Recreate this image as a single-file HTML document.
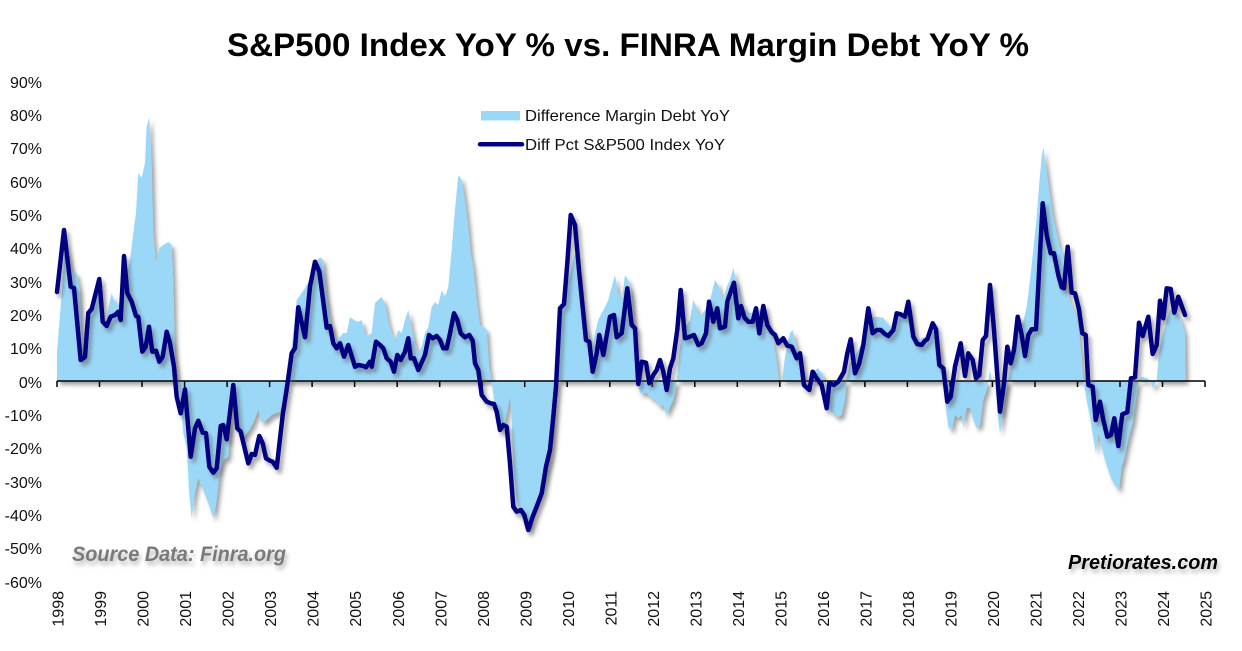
<!DOCTYPE html>
<html>
<head>
<meta charset="utf-8">
<style>
html,body{margin:0;padding:0;background:#fff;}
svg{display:block;}
text{font-family:"Liberation Sans",Arial,sans-serif;}
</style>
</head>
<body>
<svg width="1242" height="651" viewBox="0 0 1242 651" xmlns="http://www.w3.org/2000/svg">
<defs>
<filter id="sh" x="-5%" y="-5%" width="110%" height="110%">
<feDropShadow dx="3" dy="4" stdDeviation="2" flood-color="#555" flood-opacity="0.55"/>
</filter>
<filter id="tsh" x="-5%" y="-20%" width="110%" height="160%">
<feDropShadow dx="2" dy="4" stdDeviation="2" flood-color="#888" flood-opacity="0.6"/>
</filter>
</defs>
<rect width="1242" height="651" fill="#fff"/>

<text x="628" y="56" text-anchor="middle" font-size="32" font-weight="bold" textLength="802" lengthAdjust="spacingAndGlyphs" fill="#000">S&amp;P500 Index YoY % vs. FINRA Margin Debt YoY %</text>

<!-- area -->
<polygon filter="url(#sh)" fill="#9bd8f8" points="57,381 57,352 62,290 65,240 72,272 76.7,273 80,290 83,365 86,350 88.3,315 92,305 99,282 102,318 106,322 110,300 111.7,293 114,300 118,305 121,300 124,260 127,275 130,260 133.3,233 136,213 138.3,173 141.7,178 145,163 146.7,127 149.3,117 151.7,167 153.3,233 156,262 159.3,248 163,245 168.3,242 171.7,245 173.3,280 175,360 177.5,381 180,393 183.3,433 186.7,447 189,490 191.7,518 195,493 198.3,478 203.3,490 208.3,503 213.3,518 216,505 220,473 223.3,460 228.3,457 231.7,413 234,392 236,415 240,440 245,436 249.3,430 253.3,423 258.3,410 261.7,423 266.7,420 271.7,415 276.7,413 280,412 283.3,400 286.7,382 289,355 292,345 296.7,300 301.7,293 305,288 308.3,282 312,275 315,263 320,257 323.3,260 326.7,295 330,316 334,335 338,340 343,333 346.7,333 350,317 354,320 358,322 361.7,320 365,333 368,336 371.7,333 375,303 378,300 381.7,297 385,303 388,320 391.7,333 395,340 398.3,330 401.7,333 405,320 408.3,310 411.7,327 415,343 418.3,353 421.7,347 425,333 428.3,327 431.7,307 435,302 438.3,305 441.7,290 445,297 448.3,287 451.7,250 455,210 458.3,175 461.7,180 465,200 468.3,227 470.7,253 473.3,267 476.7,300 480,325 484,327 486.7,330 489.3,367 491.7,381 494,400 498,413 503.3,433 506.7,415 510,397 511.7,420 513.3,467 516.7,500 521.7,517 525,523 528.3,530 533,513 538.3,500 543,487 546.7,473 550,460 553.3,433 555,400 556.7,381 558.3,340 561.7,307 565,300 568.3,280 571.7,267 575,253 578.3,270 581.7,300 585,327 588.3,333 591.7,353 595,333 598.3,320 601.7,313 605,307 608.3,300 611.7,287 615,275 618.3,293 621.7,300 625,275 628.3,280 631.7,293 635,333 637.7,381 640,393 646.7,393 650,397 655,400 660,407 663.3,405 666.7,415 670,407 673.3,400 675,393 676.7,381 680,347 683.3,330 686.7,325 690,320 693.3,300 696.7,307 700,317 705,310 710,300 715,280 718.3,285 723.3,300 726.7,287 730,280 733.3,268 736.7,283 741.7,303 745,310 750,313 756.7,313 763.3,307 766.7,323 770,333 773.3,340 776.7,360 779,381 782,381 785,357 790,333 792.7,330 795,340 798.3,353 801.7,367 805,381 810,381 813,372 818,368 823,375 826,390 830,410 835,415 838.3,417 841.7,415 845,400 846.7,381 850,363 853.3,360 856.7,353 863.3,340 868.3,313 873.3,317 878.3,317 883.3,318 888.3,325 893.3,330 896.7,313 905,313 908.3,305 913.3,333 920,340 923.3,337 928.3,338 933.3,330 938.3,347 941.7,367 943.3,381 945,400 948.3,427 951.7,430 955,415 958.3,418 961.7,415 963.3,428 966.7,408 970,408 973.3,420 976.7,428 980,425 983.3,400 986.7,390 988.3,381 990,370 992,381 995,381 998,417 1000,433 1002.7,417 1006,393 1008.3,381 1011.7,363 1016.7,340 1020,327 1023.3,322 1026.7,307 1030,280 1033.3,250 1036.7,217 1039.3,183 1041.7,157 1043.3,147 1046,167 1048.3,183 1050.7,200 1053.3,217 1056.7,233 1060,248 1063.3,253 1066.7,287 1070,300 1073.3,307 1076.7,317 1079.3,333 1081.7,357 1083.3,381 1086.7,400 1090,417 1093.3,437 1096,453 1098.3,433 1101.7,447 1105,460 1108.3,470 1111.7,480 1116.7,487 1119,490 1121.7,467 1124,460 1126.7,447 1130,433 1133.3,420 1136,400 1138.3,381 1142,377 1147,378 1150,381 1153,388 1156.7,381 1158.3,360 1160,347 1163.3,333 1166.7,320 1170,310 1173.3,310 1176.7,313 1180,317 1183.3,327 1185,333 1185.7,381"/>

<!-- axis -->
<g stroke="#000" stroke-width="1.5">
<line x1="57" y1="381" x2="1205" y2="381"/>
<line x1="57" y1="381" x2="57" y2="387"/>
<line x1="99.5" y1="381" x2="99.5" y2="387"/>
<line x1="142" y1="381" x2="142" y2="387"/>
<line x1="184.6" y1="381" x2="184.6" y2="387"/>
<line x1="227.1" y1="381" x2="227.1" y2="387"/>
<line x1="269.6" y1="381" x2="269.6" y2="387"/>
<line x1="312.1" y1="381" x2="312.1" y2="387"/>
<line x1="354.6" y1="381" x2="354.6" y2="387"/>
<line x1="397.2" y1="381" x2="397.2" y2="387"/>
<line x1="439.7" y1="381" x2="439.7" y2="387"/>
<line x1="482.2" y1="381" x2="482.2" y2="387"/>
<line x1="524.7" y1="381" x2="524.7" y2="387"/>
<line x1="567.2" y1="381" x2="567.2" y2="387"/>
<line x1="609.8" y1="381" x2="609.8" y2="387"/>
<line x1="652.3" y1="381" x2="652.3" y2="387"/>
<line x1="694.8" y1="381" x2="694.8" y2="387"/>
<line x1="737.3" y1="381" x2="737.3" y2="387"/>
<line x1="779.8" y1="381" x2="779.8" y2="387"/>
<line x1="822.4" y1="381" x2="822.4" y2="387"/>
<line x1="864.9" y1="381" x2="864.9" y2="387"/>
<line x1="907.4" y1="381" x2="907.4" y2="387"/>
<line x1="949.9" y1="381" x2="949.9" y2="387"/>
<line x1="992.4" y1="381" x2="992.4" y2="387"/>
<line x1="1035" y1="381" x2="1035" y2="387"/>
<line x1="1077.5" y1="381" x2="1077.5" y2="387"/>
<line x1="1120" y1="381" x2="1120" y2="387"/>
<line x1="1162.5" y1="381" x2="1162.5" y2="387"/>
<line x1="1205" y1="381" x2="1205" y2="387"/>
</g>

<!-- line -->
<polyline filter="url(#sh)" fill="none" stroke="#000080" stroke-width="4.5" stroke-linejoin="round" stroke-linecap="round" points="57,292 64,230 70.7,286.7 74,288 80.7,360 85,357 88.3,313 91.7,309 99.3,279 102.7,321.7 106.7,326 110.7,316.7 115,315 118.3,311.7 120.7,320 124,256 127.3,293 131.7,301.7 136,316 138.3,317 142.3,351.7 145.7,346.7 149,326.7 152.3,351.7 156,350.7 159.3,361.7 162.7,356.7 166.7,331.7 170,343.3 174,366.7 176.7,396.7 180.7,413.3 185,389.3 190.7,456.7 195,428.3 198.3,420.7 202.7,432.7 206,433.3 209.3,466.7 213.3,472.7 216.7,468.3 220.7,426 223.3,425 226.7,439.3 233.3,385 237.3,428.3 240.7,431.7 248.3,463.3 251.7,454 255,455 259.3,436 262.7,443.3 266,458.3 270,460.7 272.7,461.7 276.7,467.7 282.7,415 287.3,385 291.7,353.3 295,348.3 298.3,307.3 305,337.3 310,286.7 315,261.7 319.3,271.7 323.3,301.7 326.7,327.7 330,326 333.3,343.3 336.7,348.3 340,343.3 344,356.7 348.3,345 355,366.7 358.3,365 363.3,366 366,367.3 370,361.7 371.7,366.7 376,341.7 380,345 383.3,348.3 386.7,358.3 390.7,361.7 394,371.7 397.3,355 400.7,360 405,351.7 408.3,338.3 410.7,358.3 414,358.3 418.3,370 425,355 429,335 432.7,338.3 436.7,336 440,340 443.3,348.3 446.7,348.3 450,333.3 454,313.3 457.3,320 460.7,333.3 465,337.3 469.3,335 472.7,340.7 475,363.3 478.3,370 481.7,395 486.7,401.7 490.7,403.3 494,404 496.7,411.7 500,430 503.3,425 506.7,426.7 510,463.3 513.3,506.7 516.7,511.7 521,510 524.3,515 528.3,530 532.7,516.7 537.3,505 541.7,493.3 546,466.7 550,450 553.3,416.7 556,386.7 560,308.3 564,304 567.3,263.3 570.7,215 575,225 579.3,273.3 583.3,313.3 586,340 589.3,341.7 592.7,371.7 596.7,353.3 599.3,335 603.3,355 610,316.7 614,315 616.7,337.3 621.7,333.3 627.3,288.3 631.7,325 635,328.3 638.3,384 641.7,361.7 646,362.7 649.3,383.3 653.3,375 656.7,370 660,360 663.3,371.7 666.7,390 670,368.3 673.3,358.3 677.3,330 680.7,290 685,338.3 690,336.7 694,335 698.3,345 701.7,343.3 706,333.3 709,301.7 713.3,321.7 717.3,308.3 720,328.3 725,326.7 727.3,301.7 730.7,291.7 734,282.7 738.3,318.3 741,306 744.3,317.3 748.3,321.7 752.7,321.7 756,308.3 759.3,333.3 763.3,306 767.3,325 771.7,332.3 775,335 778.3,343.3 783.3,338.3 787.3,345.7 791.7,346.7 796.7,358.3 800,353.3 804,385 809.3,390 812.7,371.7 816.7,378.3 821.7,385 826.7,408.3 829.3,383.3 834,385 838.3,381.7 844,371.7 847.3,353.3 850.7,339.3 855,373.3 859.3,363.3 863.3,345 868.3,308.3 872.7,333.3 876.7,330 880.7,330 885,334 888.3,336 893.3,330 896.7,313.3 900.7,314.3 905,316.7 908.3,301.7 913.3,336.7 917.3,344 921.7,345 925,340.7 927.3,339.3 932.7,323.3 936,329.3 939.3,365 943.3,368.3 947.3,401.7 950.7,396.7 955,366.7 960.7,343.3 965,376 968.3,353.3 972.7,360 976,378.3 979.3,375 982.7,340 986,336 990,285 994,330 1000,411.7 1004,383.3 1007.3,346.7 1010.7,363.3 1014,350 1017.7,316.7 1021.7,335 1025,356 1028.3,335 1031.7,329.3 1036,329.3 1042.7,203.3 1046.7,235 1050.7,253.3 1054,253.3 1058.3,275 1061.7,287.3 1064,288.3 1067.7,246.7 1071.7,292.7 1075,293.3 1079,309.3 1082.3,333.3 1085.7,335 1088.3,385 1092.7,386.7 1095.7,420 1100,401.7 1103.3,420 1107.3,436.7 1111,435 1114.3,418.3 1118.3,446 1122.3,414.3 1127.3,412.3 1131,378.3 1135,377.3 1139,322.7 1142.7,336 1148.3,316.7 1152.7,354 1156.7,345 1160,300.7 1163.3,318.3 1166.7,288.3 1170.7,289 1174.3,312.7 1178.3,296.7 1185,315"/>

<!-- y labels -->
<g font-size="16" fill="#111" text-anchor="end">
<text x="42" y="88">90%</text>
<text x="42" y="121">80%</text>
<text x="42" y="154">70%</text>
<text x="42" y="188">60%</text>
<text x="42" y="221">50%</text>
<text x="42" y="254">40%</text>
<text x="42" y="288">30%</text>
<text x="42" y="321">20%</text>
<text x="42" y="354">10%</text>
<text x="42" y="388">0%</text>
<text x="42" y="421">-10%</text>
<text x="42" y="454">-20%</text>
<text x="42" y="488">-30%</text>
<text x="42" y="521">-40%</text>
<text x="42" y="554">-50%</text>
<text x="42" y="588">-60%</text>
</g>

<!-- x labels -->
<g font-size="16" fill="#111" text-anchor="end">
<text transform="translate(63.6,591) rotate(-90)">1998</text>
<text transform="translate(106.1,591) rotate(-90)">1999</text>
<text transform="translate(148.6,591) rotate(-90)">2000</text>
<text transform="translate(191.2,591) rotate(-90)">2001</text>
<text transform="translate(233.7,591) rotate(-90)">2002</text>
<text transform="translate(276.2,591) rotate(-90)">2003</text>
<text transform="translate(318.7,591) rotate(-90)">2004</text>
<text transform="translate(361.2,591) rotate(-90)">2005</text>
<text transform="translate(403.8,591) rotate(-90)">2006</text>
<text transform="translate(446.3,591) rotate(-90)">2007</text>
<text transform="translate(488.8,591) rotate(-90)">2008</text>
<text transform="translate(531.3,591) rotate(-90)">2009</text>
<text transform="translate(573.8,591) rotate(-90)">2010</text>
<text transform="translate(616.4,591) rotate(-90)">2011</text>
<text transform="translate(658.9,591) rotate(-90)">2012</text>
<text transform="translate(701.4,591) rotate(-90)">2013</text>
<text transform="translate(743.9,591) rotate(-90)">2014</text>
<text transform="translate(786.4,591) rotate(-90)">2015</text>
<text transform="translate(829,591) rotate(-90)">2016</text>
<text transform="translate(871.5,591) rotate(-90)">2017</text>
<text transform="translate(914,591) rotate(-90)">2018</text>
<text transform="translate(956.5,591) rotate(-90)">2019</text>
<text transform="translate(999,591) rotate(-90)">2020</text>
<text transform="translate(1041.6,591) rotate(-90)">2021</text>
<text transform="translate(1084.1,591) rotate(-90)">2022</text>
<text transform="translate(1126.6,591) rotate(-90)">2023</text>
<text transform="translate(1169.1,591) rotate(-90)">2024</text>
<text transform="translate(1211.6,591) rotate(-90)">2025</text>
</g>

<!-- legend -->
<rect x="481" y="111" width="39" height="9.5" fill="#9bd8f8"/>
<text x="525" y="121" font-size="16" fill="#111" textLength="205" lengthAdjust="spacingAndGlyphs">Difference Margin Debt YoY</text>
<line x1="480" y1="144.3" x2="522" y2="144.3" stroke="#000080" stroke-width="4.5" stroke-linecap="round"/>
<text x="525" y="150" font-size="16" fill="#111" textLength="200" lengthAdjust="spacingAndGlyphs">Diff Pct S&amp;P500 Index YoY</text>

<!-- watermark texts -->
<text filter="url(#tsh)" x="72" y="561" font-size="21" font-weight="bold" font-style="italic" fill="#7a7a7a" textLength="214" lengthAdjust="spacingAndGlyphs">Source Data: Finra.org</text>
<text filter="url(#tsh)" x="1068" y="569" font-size="20" font-weight="bold" font-style="italic" fill="#000" textLength="150" lengthAdjust="spacingAndGlyphs">Pretiorates.com</text>
</svg>
</body>
</html>
